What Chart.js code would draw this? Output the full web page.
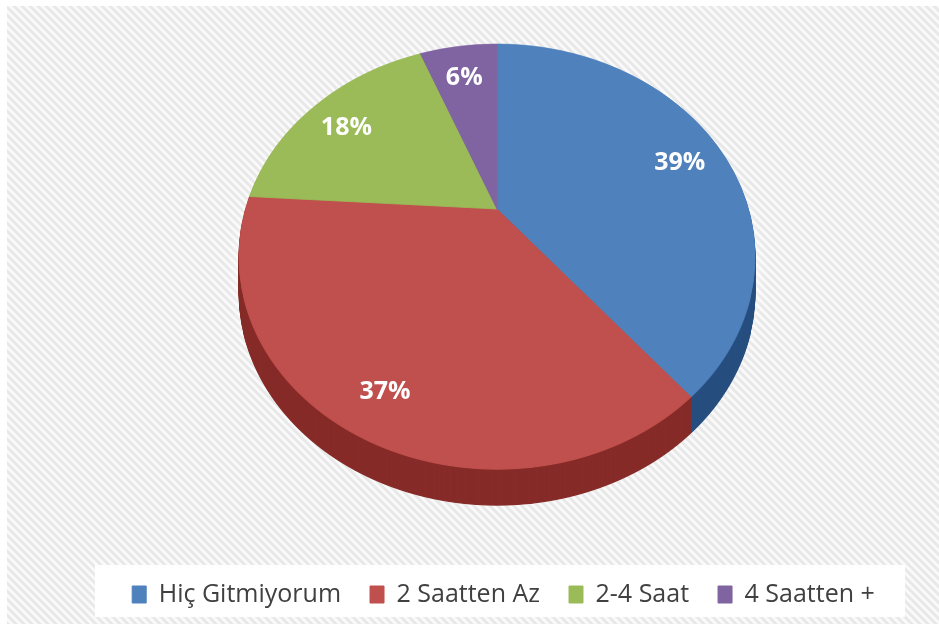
<!DOCTYPE html>
<html>
<head>
<meta charset="utf-8">
<script src="https://cdn.jsdelivr.net/npm/chart.js@4/dist/chart.umd.min.js"></script>
<style>
  html, body { margin: 0; padding: 0; background: #ffffff; }
  #wrap { width: 939px; height: 624px; position: relative; }
</style>
</head>
<body>
<div id="wrap"><canvas id="chart"></canvas></div>
<script>
// ---- data ----
const categories = ['Hiç Gitmiyorum', '2 Saatten Az', '2-4 Saat', '4 Saatten +'];
const values = [39, 37, 18, 6];
const sliceColors = ['#4f81bd', '#c0504d', '#9bbb59', '#8064a2'];

// ---- perspective view of the pie (layout only) ----
const PIE = { cx: 497, cy: 209, R: 251.5, B: 201.9, e: 0.2236, depth: 36, labelFrac: 0.82 };

function project(u, v) {
  const s = 1 / (1 - PIE.e * v);
  return [PIE.cx + PIE.R * u * s, PIE.cy + PIE.B * v * s];
}
function rowToV(Y) {
  const t = (Y - PIE.cy) / PIE.B;
  return t / (1 + PIE.e * t);
}

let hatchPattern = null;
function getHatch(ctx) {
  if (hatchPattern) return hatchPattern;
  const p = document.createElement('canvas');
  p.width = 8; p.height = 8;
  const pc = p.getContext('2d');
  pc.fillStyle = '#fafafa';
  pc.fillRect(0, 0, 8, 8);
  pc.strokeStyle = '#e8e8e8';
  pc.lineWidth = 3;
  for (let k = -1; k <= 1; k++) {
    pc.beginPath();
    pc.moveTo(k * 8 - 2, -2);
    pc.lineTo(k * 8 + 10, 10);
    pc.stroke();
  }
  hatchPattern = ctx.createPattern(p, 'repeat');
  return hatchPattern;
}

const perspectivePie = {
  id: 'perspectivePie',
  beforeDraw(chart) {
    const ctx = chart.ctx;
    ctx.save();
    ctx.fillStyle = '#ffffff';
    ctx.fillRect(0, 0, chart.width, chart.height);
    ctx.fillStyle = getHatch(ctx);
    ctx.fillRect(7, 6, chart.width - 7, chart.height - 6);
    // white legend panel
    ctx.fillStyle = '#ffffff';
    ctx.fillRect(95, 565, 810, 52);
    ctx.restore();
  },
  beforeDatasetsDraw(chart) {
    const ctx = chart.ctx;
    const meta = chart.getDatasetMeta(0);
    const W = chart.width, H = chart.height;
    const face = document.createElement('canvas');
    face.width = W; face.height = H;
    const fc = face.getContext('2d');
    const top = PIE.cy - PIE.B / (1 + PIE.e);
    const bot = PIE.cy + PIE.B / (1 - PIE.e);
    for (let Y = Math.floor(top) - 1; Y <= Math.ceil(bot) + 1; Y++) {
      const v0 = rowToV(Y), v1 = rowToV(Y + 1), vm = rowToV(Y + 0.5);
      if (v1 < -1.02 || v0 > 1.02) continue;
      const s = 1 / (1 - PIE.e * vm);
      fc.save();
      fc.beginPath();
      fc.rect(0, Y, W, 1);
      fc.clip();
      meta.data.forEach(arc => {
        const r = arc.outerRadius;
        fc.save();
        fc.translate(PIE.cx, Y);
        fc.scale(PIE.R * s / r, 1 / (r * (v1 - v0)));
        fc.translate(-arc.x, -(arc.y + v0 * r));
        arc.draw(fc);
        fc.restore();
      });
      fc.restore();
    }
    // soft glow
    ctx.save();
    ctx.shadowColor = 'rgba(255,255,255,1)';
    ctx.shadowBlur = 14;
    ctx.drawImage(face, 0, PIE.depth / 2);
    ctx.restore();
    // side wall
    ctx.save();
    ctx.filter = 'brightness(0.6) saturate(1.35)';
    for (let d = PIE.depth; d >= 1; d--) ctx.drawImage(face, 0, d);
    ctx.restore();
    // top face
    ctx.drawImage(face, 0, 0);
    // percentage labels
    ctx.save();
    ctx.fillStyle = '#ffffff';
    ctx.font = "700 25px 'Open Sans', sans-serif";
    ctx.textAlign = 'center';
    ctx.textBaseline = 'alphabetic';
    meta.data.forEach((arc, i) => {
      const a = (arc.startAngle + arc.endAngle) / 2;
      const [X, Y] = project(Math.cos(a) * PIE.labelFrac, Math.sin(a) * PIE.labelFrac);
      ctx.fillText(values[i] + '%', X, Y + 14);
    });
    ctx.restore();
    return false;
  }
};

Chart.defaults.font.family = "'Open Sans', sans-serif";

new Chart(document.getElementById('chart'), {
  type: 'pie',
  data: {
    labels: categories,
    datasets: [{
      data: values,
      backgroundColor: sliceColors,
      borderColor: sliceColors,
      borderWidth: 1
    }]
  },
  options: {
    responsive: true,
    maintainAspectRatio: false,
    animation: false,
    layout: { padding: { left: 68, bottom: 7 } },
    plugins: {
      tooltip: { enabled: false },
      legend: {
        position: 'bottom',
        labels: {
          boxWidth: 14,
          boxHeight: 17,
          padding: 29,
          color: '#404040',
          font: { size: 25 }
        }
      }
    }
  },
  plugins: [perspectivePie]
});
</script>
</body>
</html>
